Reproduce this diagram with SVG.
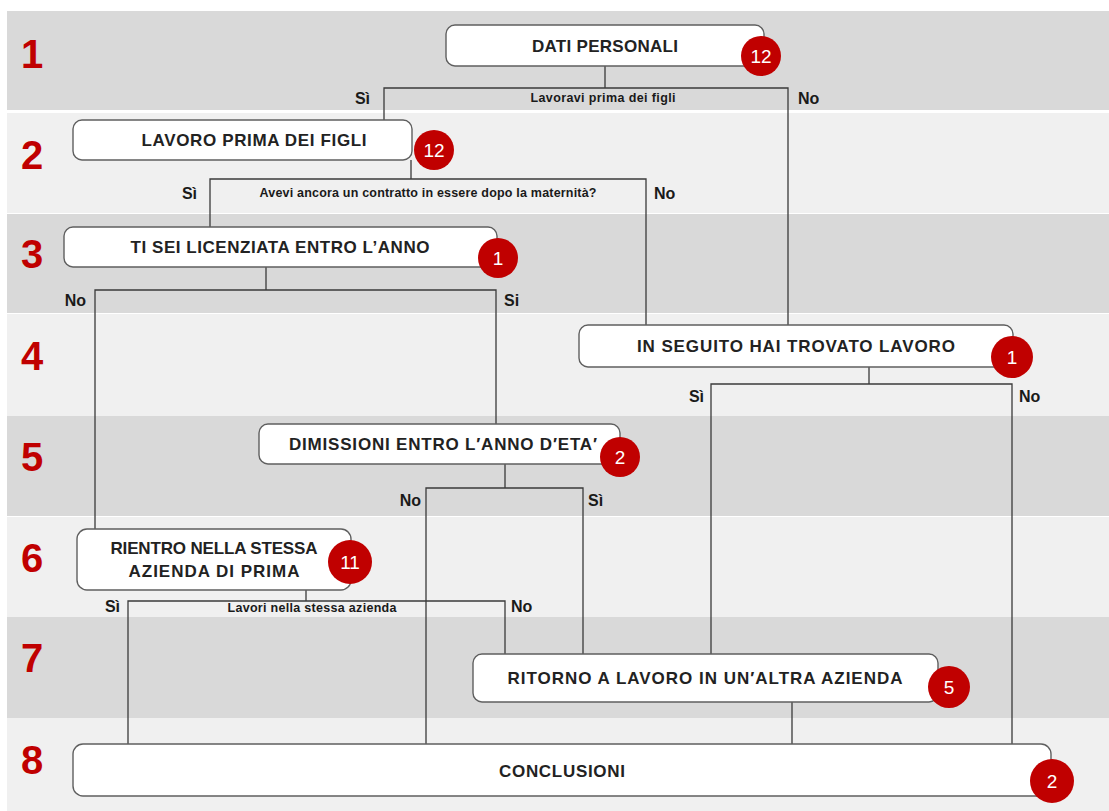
<svg xmlns="http://www.w3.org/2000/svg" width="1109" height="811" viewBox="0 0 1109 811">
<defs>
<style>
.bd{fill:#d9d9d9}
.bl{fill:#f0f0f0}
.num{font-family:"Liberation Sans",Arial,sans-serif;font-weight:bold;font-size:40px;fill:#c00000;text-anchor:middle}
.box{fill:#ffffff;stroke:#5f5f5f;stroke-width:1.4}
.lbl{font-family:"Liberation Sans",Arial,sans-serif;font-weight:bold;font-size:17px;fill:#222222;text-anchor:middle}
.q{font-family:"Liberation Sans",Arial,sans-serif;font-weight:bold;font-size:12.5px;fill:#1a1a1a;text-anchor:middle}
.yn{font-family:"Liberation Sans",Arial,sans-serif;font-weight:bold;font-size:16px;fill:#1a1a1a}
.badge{fill:#c00000}
.bt{font-family:"Liberation Sans",Arial,sans-serif;font-size:19px;fill:#ffffff;text-anchor:middle}
.c{fill:none;stroke:#3a3a3a;stroke-width:1.3}
</style>
</defs>
<rect width="1109" height="811" fill="#ffffff"/>
<g id="bands">
<rect class="bd" x="7" y="11" width="1102" height="99"/>
<rect class="bl" x="7" y="113" width="1102" height="100"/>
<rect class="bd" x="7" y="214" width="1102" height="99"/>
<rect class="bl" x="7" y="314" width="1102" height="102"/>
<rect class="bd" x="7" y="416" width="1102" height="100"/>
<rect class="bl" x="7" y="517" width="1102" height="100"/>
<rect class="bd" x="7" y="617" width="1102" height="101"/>
<rect class="bl" x="7" y="718" width="1102" height="93"/>
<text class="num" x="32" y="68">1</text>
<text class="num" x="32" y="169">2</text>
<text class="num" x="32" y="268">3</text>
<text class="num" x="32" y="370">4</text>
<text class="num" x="32" y="471">5</text>
<text class="num" x="32" y="572">6</text>
<text class="num" x="32" y="672">7</text>
<text class="num" x="32" y="774">8</text>
</g>
<g id="connectors">
<path class="c" d="M605 66V88M384 120V88H788V325"/>
<path class="c" d="M411 160V179M210 227V179H646V325"/>
<path class="c" d="M266 267V290M95 529V290H496V424"/>
<path class="c" d="M869 367V384M711 654V384H1012V744"/>
<path class="c" d="M505 464V488M426 744V488H583V654"/>
<path class="c" d="M306 590V601M128 744V601H505V654"/>
<path class="c" d="M792 702V744"/>
<text class="q" x="603" y="102" textLength="145" lengthAdjust="spacing">Lavoravi prima dei figli</text>
<text class="yn" x="370" y="104" text-anchor="end">Sì</text>
<text class="yn" x="798" y="104">No</text>
<text class="q" x="428" y="197" textLength="337" lengthAdjust="spacing">Avevi ancora un contratto in essere dopo la maternità?</text>
<text class="yn" x="197" y="199" text-anchor="end">Sì</text>
<text class="yn" x="654" y="199">No</text>
<text class="yn" x="86" y="306" text-anchor="end">No</text>
<text class="yn" x="504" y="306">Si</text>
<text class="yn" x="704" y="402" text-anchor="end">Sì</text>
<text class="yn" x="1019" y="402">No</text>
<text class="yn" x="421" y="506" text-anchor="end">No</text>
<text class="yn" x="588" y="506">Sì</text>
<text class="q" x="312" y="612" textLength="169" lengthAdjust="spacing">Lavori nella stessa azienda</text>
<text class="yn" x="120" y="612" text-anchor="end">Sì</text>
<text class="yn" x="511" y="612">No</text>
</g>
<g id="n1">
<rect class="box" x="446" y="25" width="318" height="41" rx="9"/>
<text class="lbl" x="605" y="52" textLength="146" lengthAdjust="spacing">DATI PERSONALI</text>
<circle class="badge" cx="761" cy="56" r="20"/>
<text class="bt" x="761" y="63">12</text>
</g>
<g id="n2">
<rect class="box" x="73" y="120" width="339" height="40" rx="9"/>
<text class="lbl" x="254" y="146" textLength="225" lengthAdjust="spacing">LAVORO PRIMA DEI FIGLI</text>
<circle class="badge" cx="434" cy="150" r="20"/>
<text class="bt" x="434" y="157">12</text>
</g>
<g id="n3">
<rect class="box" x="64" y="227" width="433" height="40" rx="9"/>
<text class="lbl" x="280" y="253" textLength="299" lengthAdjust="spacing">TI SEI LICENZIATA ENTRO L’ANNO</text>
<circle class="badge" cx="498" cy="258" r="20"/>
<text class="bt" x="498" y="265">1</text>
</g>
<g id="n4">
<rect class="box" x="579" y="325" width="434" height="42" rx="9"/>
<text class="lbl" x="796" y="352" textLength="318" lengthAdjust="spacing">IN SEGUITO HAI TROVATO LAVORO</text>
<circle class="badge" cx="1012" cy="357" r="21"/>
<text class="bt" x="1012" y="364">1</text>
</g>
<g id="n5">
<rect class="box" x="259" y="424" width="361" height="40" rx="9"/>
<text class="lbl" x="443" y="450" textLength="308" lengthAdjust="spacing">DIMISSIONI ENTRO L′ANNO D′ETA′</text>
<circle class="badge" cx="620" cy="457" r="20"/>
<text class="bt" x="620" y="464">2</text>
</g>
<g id="n6">
<rect class="box" x="77" y="529" width="274" height="61" rx="10"/>
<text class="lbl" x="214" y="554" textLength="207" lengthAdjust="spacing">RIENTRO NELLA STESSA</text>
<text class="lbl" x="214" y="577" textLength="171" lengthAdjust="spacing">AZIENDA DI PRIMA</text>
<circle class="badge" cx="350" cy="562" r="22"/>
<text class="bt" x="350" y="569">11</text>
</g>
<g id="n7">
<rect class="box" x="473" y="654" width="465" height="48" rx="9"/>
<text class="lbl" x="705" y="684" textLength="395" lengthAdjust="spacing">RITORNO A LAVORO IN UN′ALTRA AZIENDA</text>
<circle class="badge" cx="949" cy="687" r="21"/>
<text class="bt" x="949" y="694">5</text>
</g>
<g id="n8">
<rect class="box" x="73" y="744" width="978" height="52" rx="10"/>
<text class="lbl" x="562" y="777" textLength="126" lengthAdjust="spacing">CONCLUSIONI</text>
<circle class="badge" cx="1052" cy="781" r="22"/>
<text class="bt" x="1052" y="788">2</text>
</g>
</svg>
